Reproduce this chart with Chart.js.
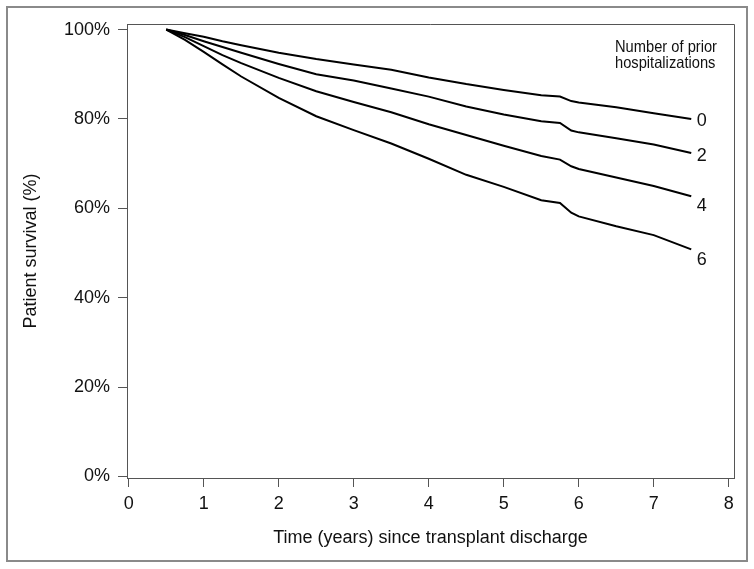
<!DOCTYPE html>
<html>
<head>
<meta charset="utf-8">
<script src="https://cdn.jsdelivr.net/npm/chart.js@4/dist/chart.umd.min.js"></script>
<style>
  html, body { margin: 0; padding: 0; background: #fff; }
  #c { display: block; }
</style>
</head>
<body>
<canvas id="c" width="754" height="569"></canvas>
<script>
// ---- data ----
const times = [0.5, 0.75, 1, 1.25, 1.5, 2, 2.5, 3, 3.5, 4, 4.5, 5, 5.5, 5.75, 5.9, 6, 6.5, 7, 7.5];
const surv0 = [100, 99.2, 98.4, 97.4, 96.5, 94.8, 93.4, 92.2, 91.0, 89.3, 87.8, 86.5, 85.3, 85.0, 84.0, 83.7, 82.6, 81.3, 80.0];
const surv2 = [100, 98.8, 97.4, 96.1, 94.8, 92.3, 90.0, 88.6, 86.8, 85.0, 82.8, 81.0, 79.5, 79.1, 77.4, 77.0, 75.7, 74.3, 72.4];
const surv4 = [100, 98.3, 96.3, 94.3, 92.5, 89.2, 86.2, 83.8, 81.5, 78.8, 76.4, 74.0, 71.7, 70.9, 69.4, 68.8, 66.9, 65.0, 62.7];
const surv6 = [100, 97.7, 95.0, 92.2, 89.5, 84.7, 80.6, 77.5, 74.5, 71.1, 67.5, 64.8, 61.8, 61.2, 59.0, 58.2, 56.0, 54.0, 50.8];
const seriesNames = ["0", "2", "4", "6"];
const xTickValues = [0, 1, 2, 3, 4, 5, 6, 7, 8];
const xTickLabels = ["0", "1", "2", "3", "4", "5", "6", "7", "8"];
const yTickValues = [0, 20, 40, 60, 80, 100];
const yTickLabels = ["0%", "20%", "40%", "60%", "80%", "100%"];
const legendTitle = ["Number of prior", "hospitalizations"];
const xTitle = "Time (years) since transplant discharge";
const yTitle = "Patient survival (%)";

// ---- label placement (layout, not data) ----
const endLabelX = 7.64;
const endLabelY = [79.5, 71.7, 60.5, 48.5];

const FONT = "'Liberation Sans', Arial, sans-serif";
const allSeries = [surv0, surv2, surv4, surv6];

const datasets = allSeries.map((s, i) => ({
  label: seriesNames[i],
  data: times.map((t, k) => ({ x: t, y: s[k] })),
  borderColor: '#000',
  borderWidth: 2,
  pointRadius: 0,
  tension: 0,
  fill: false
}));

const decor = {
  id: 'decor',
  beforeDraw(chart) {
    const ctx = chart.ctx;
    ctx.save();
    ctx.fillStyle = '#fff';
    ctx.fillRect(0, 0, chart.width, chart.height);
    ctx.restore();
  },
  afterDraw(chart) {
    const ctx = chart.ctx;
    const a = chart.chartArea;
    const xs = chart.scales.x, ys = chart.scales.y;
    ctx.save();
    // outer frame
    ctx.strokeStyle = '#8a8a8a';
    ctx.lineWidth = 2;
    ctx.strokeRect(7, 7, 740, 554);
    // plot box top & right
    ctx.strokeStyle = '#555';
    ctx.lineWidth = 1;
    ctx.beginPath();
    ctx.moveTo(a.left, a.top + 0.5);
    ctx.lineTo(a.right + 0.5, a.top + 0.5);
    ctx.lineTo(a.right + 0.5, a.bottom);
    ctx.stroke();
    // end labels
    ctx.fillStyle = '#111';
    ctx.font = '18px ' + FONT;
    ctx.textAlign = 'center';
    ctx.textBaseline = 'middle';
    seriesNames.forEach((n, i) => {
      ctx.fillText(n, xs.getPixelForValue(endLabelX), ys.getPixelForValue(endLabelY[i]));
    });
    // legend title (condensed)
    ctx.font = '16.5px ' + FONT;
    ctx.textAlign = 'left';
    ctx.textBaseline = 'alphabetic';
    legendTitle.forEach((line, i) => {
      ctx.save();
      ctx.translate(615, 52 + i * 15.5);
      ctx.scale(0.89, 1);
      ctx.fillText(line, 0, 0);
      ctx.restore();
    });
    ctx.restore();
  }
};

new Chart(document.getElementById('c'), {
  type: 'line',
  data: { datasets },
  plugins: [decor],
  options: {
    responsive: false,
    animation: false,
    events: [],
    layout: { padding: { left: 0, top: 24, right: 20, bottom: 0 } },
    plugins: { legend: { display: false }, tooltip: { enabled: false } },
    scales: {
      x: {
        type: 'linear',
        min: -0.023,
        max: 8.07,
        afterBuildTicks: s => { s.ticks = xTickValues.map(v => ({ value: v })); },
        afterFit: s => { s.height = 91; },
        ticks: {
          autoSkip: false,
          maxRotation: 0,
          padding: 6,
          color: '#111',
          font: { family: FONT, size: 18 },
          callback: (v, i) => xTickLabels[i]
        },
        grid: { display: true, drawOnChartArea: false, drawTicks: true, tickLength: 9, tickColor: '#555', tickWidth: 1 },
        border: { display: true, color: '#555', width: 1 },
        title: {
          display: true, text: xTitle, color: '#111',
          font: { family: FONT, size: 18 },
          padding: { top: 0, bottom: 20 }
        }
      },
      y: {
        type: 'linear',
        min: -0.36,
        max: 101.25,
        afterBuildTicks: s => { s.ticks = yTickValues.map(v => ({ value: v })); },
        afterFit: s => { s.width = 127; },
        ticks: {
          autoSkip: false,
          padding: 8,
          color: '#111',
          font: { family: FONT, size: 18 },
          callback: (v, i) => yTickLabels[i]
        },
        grid: { display: true, drawOnChartArea: false, drawTicks: true, tickLength: 9, tickColor: '#555', tickWidth: 1 },
        border: { display: true, color: '#555', width: 1 },
        title: {
          display: true, text: yTitle, color: '#111',
          font: { family: FONT, size: 18 },
          padding: { top: 20, bottom: 0 }
        }
      }
    }
  }
});
</script>
</body>
</html>
